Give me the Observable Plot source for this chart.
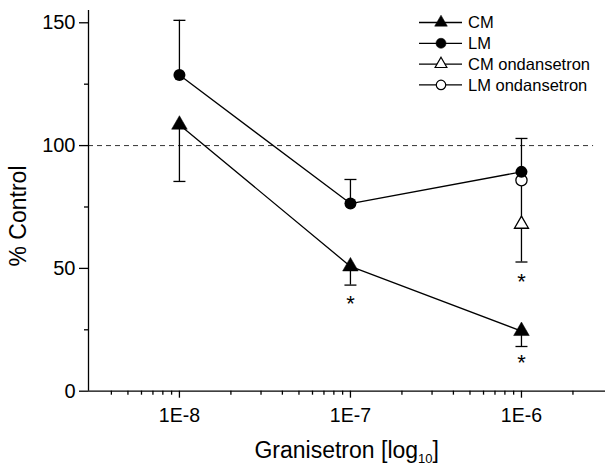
<!DOCTYPE html>
<html>
<head>
<meta charset="utf-8">
<script src="https://cdn.jsdelivr.net/npm/d3@7"></script>
<script src="https://cdn.jsdelivr.net/npm/@observablehq/plot@0.6"></script>
<style>
  html, body { margin: 0; padding: 0; background: white; }
</style>
</head>
<body>
<div id="chart"></div>
<script>
// ---- data ----
const conc = [1e-8, 1e-7, 1e-6];
const cmMean = [108.5, 50.8, 24.5];
const cmLower = [85.4, 43.2, 18.2];
const lmMean = [128.7, 76.4, 89.3];
const lmUpper = [151, 86.2, 102.9];
const ondConc = [1e-6];
const cmOndMean = [68];
const cmOndLower = [52.6];
const cmOndUpper = [83.6];
const lmOndMean = [85.9];
const starConc = [1e-7, 1e-6, 1e-6];
const starY = [37.4, 46.5, 13.7];
const majorX = [1e-8, 1e-7, 1e-6];
const minorX = [4e-9, 5e-9, 6e-9, 7e-9, 8e-9, 9e-9,
                2e-8, 3e-8, 4e-8, 5e-8, 6e-8, 7e-8, 8e-8, 9e-8,
                2e-7, 3e-7, 4e-7, 5e-7, 6e-7, 7e-7, 8e-7, 9e-7,
                2e-6];
const majorY = [0, 50, 100, 150];
const minorY = [25, 75, 125];
const refLine = 100;
const legendLabels = ["CM", "LM", "CM ondansetron", "LM ondansetron"];

const xDomain = [2.94e-9, 3.1e-6];
const font = "'Liberation Sans', Arial, Helvetica, sans-serif";

const cm = conc.map((x, i) => ({x, y: cmMean[i]}));
const lm = conc.map((x, i) => ({x, y: lmMean[i]}));
const errs = [
  ...conc.map((x, i) => ({x, y1: cmMean[i], y2: cmLower[i]})),
  ...conc.map((x, i) => ({x, y1: lmMean[i], y2: lmUpper[i]})),
  ...ondConc.map((x, i) => ({x, y1: cmOndLower[i], y2: cmOndUpper[i]}))
];
const caps = [
  ...conc.map((x, i) => ({x, y: cmLower[i]})),
  ...conc.map((x, i) => ({x, y: lmUpper[i]})),
  ...ondConc.map((x, i) => ({x, y: cmOndLower[i]}))
];
const cmOnd = ondConc.map((x, i) => ({x, y: cmOndMean[i]}));
const lmOnd = ondConc.map((x, i) => ({x, y: lmOndMean[i]}));
const stars = starConc.map((x, i) => ({x, y: starY[i]}));

const capSymbol = {
  draw(ctx, size) {
    const r = Math.sqrt(size / Math.PI);
    ctx.moveTo(-r, 0);
    ctx.lineTo(r, 0);
  }
};

const sw = 1.3;
const chart = Plot.plot({
  width: 605,
  height: 468,
  marginLeft: 88,
  marginRight: 0,
  marginTop: 10,
  marginBottom: 77.3,
  x: {type: "log", domain: xDomain},
  y: {domain: [0, 155]},
  style: {fontFamily: font, background: "white", color: "black"},
  marks: [
    Plot.ruleY([refLine], {x1: xDomain[0], x2: 2.64e-6, stroke: "#333", strokeWidth: 1, strokeDasharray: "5,4"}),
    Plot.axisX({ticks: majorX, tickSize: 7, tickPadding: 10, tickFormat: d => "1E" + Math.round(Math.log10(d)), fontSize: 19.5, label: null, strokeWidth: sw}),
    Plot.axisX({ticks: minorX, tickSize: 4, tickFormat: () => "", label: null, strokeWidth: sw}),
    Plot.axisY({ticks: majorY, tickSize: 9, tickPadding: 4, fontSize: 20, label: null, strokeWidth: sw}),
    Plot.axisY({ticks: minorY, tickSize: 4, tickFormat: () => "", label: null, strokeWidth: sw}),
    Plot.ruleY([0], {strokeWidth: sw}),
    Plot.ruleX([xDomain[0]], {strokeWidth: sw}),
    Plot.ruleX(errs, {x: "x", y1: "y1", y2: "y2", stroke: "black", strokeWidth: sw}),
    Plot.dot(caps, {x: "x", y: "y", symbol: capSymbol, r: 6, stroke: "black", strokeWidth: sw, fill: "none"}),
    Plot.line(cm, {x: "x", y: "y", stroke: "black", strokeWidth: sw}),
    Plot.line(lm, {x: "x", y: "y", stroke: "black", strokeWidth: sw}),
    Plot.dot(lmOnd, {x: "x", y: "y", r: 5.6, fill: "white", stroke: "black", strokeWidth: sw}),
    Plot.dot(cmOnd, {x: "x", y: "y", symbol: "triangle", r: 5.2, fill: "white", stroke: "black", strokeWidth: sw}),
    Plot.dot(cm, {x: "x", y: "y", symbol: "triangle", r: 5.8, fill: "black", stroke: "black", strokeWidth: 0.5}),
    Plot.dot(lm, {x: "x", y: "y", r: 6, fill: "black", stroke: "none"}),
    Plot.text(stars, {x: "x", y: "y", text: () => "*", fontSize: 22, dy: 5, fill: "black"})
  ]
});

document.getElementById("chart").appendChild(chart);

const svg = d3.select(chart);

// enlarge tick labels
svg.selectAll('g[aria-label="x-axis tick label"]').attr("font-size", 19.5).selectAll("text").attr("font-size", 19.5);
svg.selectAll('g[aria-label="y-axis tick label"]').attr("font-size", 20).selectAll("text").attr("font-size", 20);

// y-axis title
svg.append("text")
  .attr("transform", "translate(26,216) rotate(-90)")
  .attr("text-anchor", "middle")
  .attr("font-family", font)
  .attr("font-size", 23)
  .attr("fill", "black")
  .text("% Control");

// x-axis title
const xt = svg.append("text")
  .attr("x", 346.7)
  .attr("y", 458.3)
  .attr("text-anchor", "middle")
  .attr("font-family", font)
  .attr("font-size", 23)
  .attr("fill", "black");
xt.append("tspan").text("Granisetron [log");
xt.append("tspan").attr("font-size", 13).attr("dy", 5).text("10");
xt.append("tspan").attr("dy", -5).text("]");

// legend
const lg = svg.append("g").attr("font-family", font).attr("font-size", 16.5).attr("text-anchor", "start");
const legendSym = [
  {type: d3.symbolTriangle, fill: "black", size: 70},
  {type: d3.symbolCircle, fill: "black", size: 80},
  {type: d3.symbolTriangle, fill: "white", size: 60},
  {type: d3.symbolCircle, fill: "white", size: 70}
];
legendLabels.forEach((lab, i) => {
  const y = 22.5 + i * 20.8;
  lg.append("line").attr("x1", 419).attr("x2", 462).attr("y1", y).attr("y2", y)
    .attr("stroke", "black").attr("stroke-width", sw);
  lg.append("path")
    .attr("transform", `translate(441,${y})`)
    .attr("d", d3.symbol(legendSym[i].type, legendSym[i].size)())
    .attr("fill", legendSym[i].fill)
    .attr("stroke", "black")
    .attr("stroke-width", legendSym[i].fill === "white" ? 1.2 : 0.5);
  lg.append("text").attr("x", 468).attr("y", y).attr("dy", "0.35em")
    .attr("text-anchor", "start")
    .attr("fill", "black").text(lab);
});
</script>
</body>
</html>
